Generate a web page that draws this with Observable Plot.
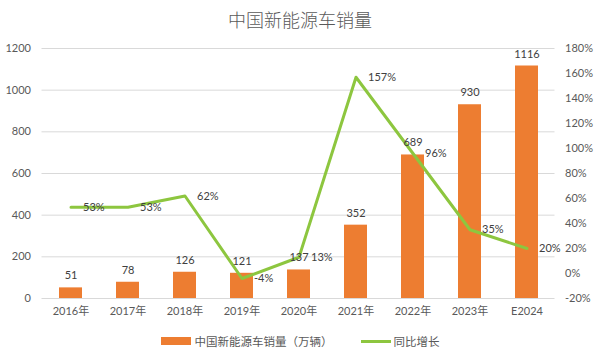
<!DOCTYPE html>
<html><head><meta charset="utf-8">
<script src="https://cdn.jsdelivr.net/npm/d3@7"></script>
<script src="https://cdn.jsdelivr.net/npm/@observablehq/plot@0.6"></script>
<style>
body{margin:0;background:#fff;font-family:Lato,"Noto Sans CJK SC",sans-serif;}
#wrap{width:600px;height:355px;position:relative;overflow:hidden;background:#fff}
#title{position:absolute;top:0;left:0;width:600px;height:38px;line-height:38px;text-align:center;font-size:18px;font-weight:300;color:#595959;font-family:"Noto Sans CJK SC",sans-serif}
#chart{position:absolute;top:36px;left:0}
#legend{position:absolute;top:330px;left:0;width:600px;height:22px;display:flex;justify-content:center;align-items:center;font-size:11.5px;color:#595959;font-family:"Noto Sans CJK SC",sans-serif}
.item{display:flex;align-items:center;margin:0 14px}
.sw{display:inline-block;width:30px;height:8px;background:#ED7D31;margin-right:4px}
.ln{display:inline-block;width:30px;height:3px;background:#8DC63F;margin-right:3px}
</style></head>
<body>
<div id="wrap">
  <div id="title">中国新能源车销量</div>
  <div id="chart"></div>
  <div id="legend">
    <div class="item"><span class="sw"></span><span>中国新能源车销量（万辆）</span></div>
    <div class="item"><span class="ln"></span><span>同比增长</span></div>
  </div>
</div>
<script>
const years = ["2016年","2017年","2018年","2019年","2020年","2021年","2022年","2023年","E2024"];
const sales = [51,78,126,121,137,352,689,930,1116];
const growth = [53,53,62,-4,13,157,96,35,20];
const leftTicks = [0,200,400,600,800,1000,1200];
const rightTicks = [-20,0,20,40,60,80,100,120,140,160,180];

// map secondary axis (-20%..180%) onto primary (0..1200)
const toLeft = p => (p + 20) * 6;
const data = years.map((y, i) => ({year: y, sales: sales[i], growth: growth[i], gy: toLeft(growth[i])}));

const chart = Plot.plot({
  width: 600,
  height: 290,
  marginTop: 12,
  marginBottom: 28,
  marginLeft: 41.5,
  marginRight: 45.5,
  x: {domain: years, paddingInner: 0.6, paddingOuter: 0.3, label: null},
  y: {domain: [0, 1200], label: null},
  style: {fontFamily: 'Lato, "Noto Sans CJK SC", sans-serif', fontSize: "11px", color: "#595959", background: "transparent"},
  marks: [
    Plot.gridY(leftTicks, {stroke: "#d9d9d9", strokeOpacity: 1}),
    Plot.barY(data, {x: "year", y: "sales", fill: "#ED7D31"}),
    Plot.line(data, {x: "year", y: "gy", stroke: "#8DC63F", strokeWidth: 3, strokeLinejoin: "round"}),
    Plot.text(data, {x: "year", y: "sales", text: d => String(d.sales), dy: -12, fill: "#404040", fontSize: 11}),
    Plot.text(data, {x: "year", y: "gy", text: d => d.growth + "%", dx: 12, textAnchor: "start", fill: "#404040", fontSize: 11}),
    Plot.axisY(leftTicks, {anchor: "left", tickSize: 0, tickPadding: 11, label: null, fill: "#595959", tickFormat: d => String(d)}),
    Plot.axisY(rightTicks.map(toLeft), {anchor: "right", tickSize: 0, tickPadding: 10, label: null, fill: "#595959",
      tickFormat: v => Math.round(v / 6 - 20) + "%"}),
    Plot.axisX({tickSize: 0, tickPadding: 9, label: null, fill: "#595959"})
  ]
});
document.getElementById("chart").appendChild(chart);
</script>
</body></html>
